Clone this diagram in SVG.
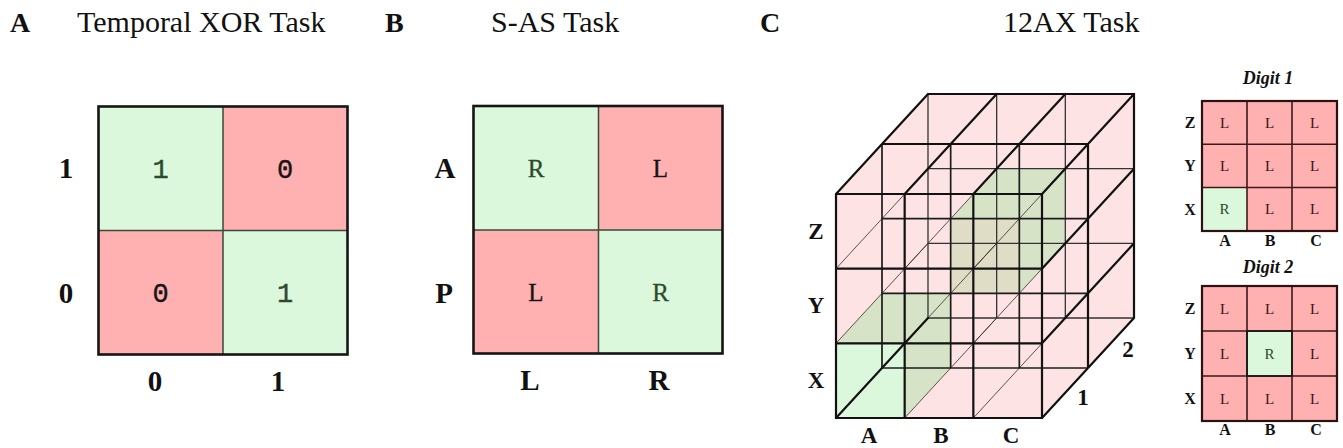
<svg xmlns="http://www.w3.org/2000/svg" width="1343" height="448" viewBox="0 0 1343 448">
  <style>
    .title { font-family: "Liberation Serif", "Times New Roman", serif; font-size: 30px; fill: #111; }
    .plabel { font-family: "Liberation Serif", "Times New Roman", serif; font-size: 28px; font-weight: bold; fill: #111; }
    .axis { font-family: "Liberation Serif", "Times New Roman", serif; font-size: 29px; font-weight: bold; fill: #111; text-anchor: middle; }
    .axis-s { font-family: "Liberation Serif", "Times New Roman", serif; font-size: 23px; font-weight: bold; fill: #111; text-anchor: middle; }
    .axis-xs { font-family: "Liberation Serif", "Times New Roman", serif; font-size: 16px; font-weight: bold; fill: #111; text-anchor: middle; }
    .mono { font-family: "Liberation Mono", "Courier New", monospace; font-size: 27px; text-anchor: middle; stroke-width: 0.4; }
    .serifcell { font-family: "Liberation Serif", "Times New Roman", serif; font-size: 25px; text-anchor: middle; }
    .smallcell { font-family: "Liberation Serif", "Times New Roman", serif; font-size: 15px; text-anchor: middle; }
    .digit-title { font-family: "Liberation Serif", "Times New Roman", serif; font-size: 18px; font-style: italic; font-weight: bold; fill: #111; text-anchor: middle; }
    .ok { fill: #dcf8dc; }
    .bad { fill: #ffb1b1; }
    .ok-t { fill: #2e4a2e; stroke: #2e4a2e; }
    .bad-t { fill: #151515; stroke: #151515; }
    .serifcell.ok-t, .serifcell.bad-t { stroke-width: 0.3; }
    .grid-in { stroke: #3a4a3a; stroke-width: 1.5; fill: none; }
    .grid-out { stroke: #151515; stroke-width: 2.6; fill: none; }
    .dgrid-in { stroke: #3d1a1a; stroke-width: 1.6; fill: none; }
    .dgrid-out { stroke: #2a1212; stroke-width: 2.2; fill: none; }
    .dl { fill: #3a1414; }
    .dr { fill: #2a4a2a; }
    .c-thick { stroke: #111; stroke-width: 2.2; fill: none; stroke-linecap: round; }
    .c-mid { stroke: #1c1c1c; stroke-width: 1.7; fill: none; }
    .c-back { stroke: #333; stroke-width: 1.3; fill: none; }
    .c-thin { stroke: #3a2a2a; stroke-width: 0.8; fill: none; }
  </style>

  <!-- panel headings -->
  <text class="plabel" x="10" y="32">A</text>
  <text class="title" x="77" y="32">Temporal XOR Task</text>
  <text class="plabel" x="385" y="32">B</text>
  <text class="title" x="491" y="32">S-AS Task</text>
  <text class="plabel" x="760" y="32">C</text>
  <text class="title" x="1003" y="32">12AX Task</text>

  <!-- A: temporal XOR table -->
  <g id="xor-table">
    <rect class="ok" x="98.5" y="106.5" width="124.5" height="124"/>
    <rect class="bad" x="223" y="106.5" width="124.5" height="124"/>
    <rect class="bad" x="98.5" y="230.5" width="124.5" height="124"/>
    <rect class="ok" x="223" y="230.5" width="124.5" height="124"/>
    <path class="grid-in" d="M223 106.5V354.5M98.5 230.5H347.5"/>
    <rect class="grid-out" x="98.5" y="106.5" width="249" height="248"/>
    <text class="mono ok-t" x="160.5" y="178">1</text>
    <text class="mono bad-t" x="285" y="178">0</text>
    <text class="mono bad-t" x="160.5" y="302">0</text>
    <text class="mono ok-t" x="285" y="302">1</text>
    <text class="axis" x="66" y="178">1</text>
    <text class="axis" x="66" y="303">0</text>
    <text class="axis" x="155" y="391">0</text>
    <text class="axis" x="278" y="391">1</text>
  </g>

  <!-- B: S-AS table -->
  <g id="sas-table">
    <rect class="ok" x="473.5" y="106" width="125" height="124"/>
    <rect class="bad" x="598.5" y="106" width="124" height="124"/>
    <rect class="bad" x="473.5" y="230" width="125" height="123.5"/>
    <rect class="ok" x="598.5" y="230" width="124" height="123.5"/>
    <path class="grid-in" d="M598.5 106V353.5M473.5 230H722.5"/>
    <rect class="grid-out" x="473.5" y="106" width="249" height="247.5"/>
    <text class="serifcell ok-t" x="536" y="177">R</text>
    <text class="serifcell bad-t" x="660.5" y="177">L</text>
    <text class="serifcell bad-t" x="536" y="301">L</text>
    <text class="serifcell ok-t" x="660.5" y="301">R</text>
    <text class="axis" x="445" y="178">A</text>
    <text class="axis" x="444" y="303">P</text>
    <text class="axis" x="530" y="390">L</text>
    <text class="axis" x="659" y="390">R</text>
  </g>

  <!-- C: 3x3x2 cube of 12AX contexts -->
  <g id="cube">
    <polygon points="836,418 1042,418 1134,318 1134,94 928,94 836,194" fill="#fde3e3"/>
    <!-- highlighted cell: A / X / digit 1 -->
    <polygon points="836,418 904.67,418 950.67,368 950.67,293.33 882,293.33 836,343.33" fill="#d6e3c6"/>
    <rect x="836" y="343.33" width="68.67" height="74.67" fill="#dcf8dc"/>
    <!-- highlighted cell: B / Y / digit 2 -->
    <polygon points="950.67,293.33 1019.33,293.33 1065.33,243.33 1065.33,168.67 996.67,168.67 950.67,218.67" fill="#d6e3c6"/>
    <rect x="950.67" y="218.67" width="68.67" height="74.67" fill="#e0ddc6"/>

    <!-- back layer lattice -->
    <path class="c-back" d="M928 318H1134M928 243.33H1134M928 168.67H1134M928 318V94M996.67 318V94M1065.33 318V94"/>
    <!-- inner depth edges -->
    <path class="c-thin" d="M904.67 418L996.67 318M973.33 418L1065.33 318
      M836 343.33L928 243.33M904.67 343.33L996.67 243.33M973.33 343.33L1065.33 243.33
      M836 268.67L928 168.67M904.67 268.67L996.67 168.67M973.33 268.67L1065.33 168.67"/>
    <!-- middle layer lattice -->
    <path class="c-mid" d="M882 368H1088M882 293.33H1088M882 218.67H1088M882 368V144M950.67 368V144M1019.33 368V144"/>
    <!-- outer edges of top and right faces, back outline -->
    <path class="c-thick" d="M928 94H1134V318M882 144H1088V368
      M836 194L928 94M904.67 194L996.67 94M973.33 194L1065.33 94M1042 194L1134 94
      M1042 268.67L1134 168.67M1042 343.33L1134 243.33M1042 418L1134 318
      M836 418L928 318"/>
    <!-- front layer lattice -->
    <path class="c-thick" d="M836 418H1042M836 343.33H1042M836 268.67H1042M836 194H1042
      M836 418V194M904.67 418V194M973.33 418V194M1042 418V194"/>

    <text class="axis-s" x="816" y="239">Z</text>
    <text class="axis-s" x="816" y="313">Y</text>
    <text class="axis-s" x="816" y="388">X</text>
    <text class="axis-s" x="869" y="443">A</text>
    <text class="axis-s" x="941" y="443">B</text>
    <text class="axis-s" x="1011" y="443">C</text>
    <text class="axis-s" x="1083" y="405">1</text>
    <text class="axis-s" x="1128" y="357">2</text>
  </g>

  <!-- C: digit 1 slice -->
  <g id="digit1">
    <text class="digit-title" x="1268" y="84">Digit 1</text>
    <rect class="bad" x="1202" y="101" width="135" height="130"/>
    <rect class="ok" x="1202" y="187.5" width="45" height="43.5"/>
    <path class="dgrid-in" d="M1247 101V231M1292 101V231M1202 144.3H1337M1202 187.5H1337"/>
    <rect class="dgrid-out" x="1202" y="101" width="135" height="130"/>
    <text class="smallcell dl" x="1224.5" y="128">L</text>
    <text class="smallcell dl" x="1269.5" y="128">L</text>
    <text class="smallcell dl" x="1314.5" y="128">L</text>
    <text class="smallcell dl" x="1224.5" y="171">L</text>
    <text class="smallcell dl" x="1269.5" y="171">L</text>
    <text class="smallcell dl" x="1314.5" y="171">L</text>
    <text class="smallcell dr" x="1224.5" y="214">R</text>
    <text class="smallcell dl" x="1269.5" y="214">L</text>
    <text class="smallcell dl" x="1314.5" y="214">L</text>
    <text class="axis-xs" x="1190" y="128">Z</text>
    <text class="axis-xs" x="1190" y="171">Y</text>
    <text class="axis-xs" x="1190" y="215">X</text>
    <text class="axis-xs" x="1225" y="246">A</text>
    <text class="axis-xs" x="1270" y="246">B</text>
    <text class="axis-xs" x="1316" y="246">C</text>
  </g>

  <!-- C: digit 2 slice -->
  <g id="digit2">
    <text class="digit-title" x="1268" y="273">Digit 2</text>
    <rect class="bad" x="1202" y="286" width="135" height="135"/>
    <rect class="ok" x="1247" y="331" width="45" height="45"/>
    <path class="dgrid-in" d="M1247 286V421M1292 286V421M1202 331H1337M1202 376H1337"/>
    <rect x="1247" y="331" width="45" height="45" fill="none" stroke="#1a1a1a" stroke-width="1.8"/>
    <rect class="dgrid-out" x="1202" y="286" width="135" height="135"/>
    <text class="smallcell dl" x="1224.5" y="314">L</text>
    <text class="smallcell dl" x="1269.5" y="314">L</text>
    <text class="smallcell dl" x="1314.5" y="314">L</text>
    <text class="smallcell dl" x="1224.5" y="359">L</text>
    <text class="smallcell dr" x="1269.5" y="359">R</text>
    <text class="smallcell dl" x="1314.5" y="359">L</text>
    <text class="smallcell dl" x="1224.5" y="404">L</text>
    <text class="smallcell dl" x="1269.5" y="404">L</text>
    <text class="smallcell dl" x="1314.5" y="404">L</text>
    <text class="axis-xs" x="1190" y="314">Z</text>
    <text class="axis-xs" x="1190" y="359">Y</text>
    <text class="axis-xs" x="1190" y="404">X</text>
    <text class="axis-xs" x="1225" y="435">A</text>
    <text class="axis-xs" x="1270" y="435">B</text>
    <text class="axis-xs" x="1316" y="435">C</text>
  </g>
</svg>
